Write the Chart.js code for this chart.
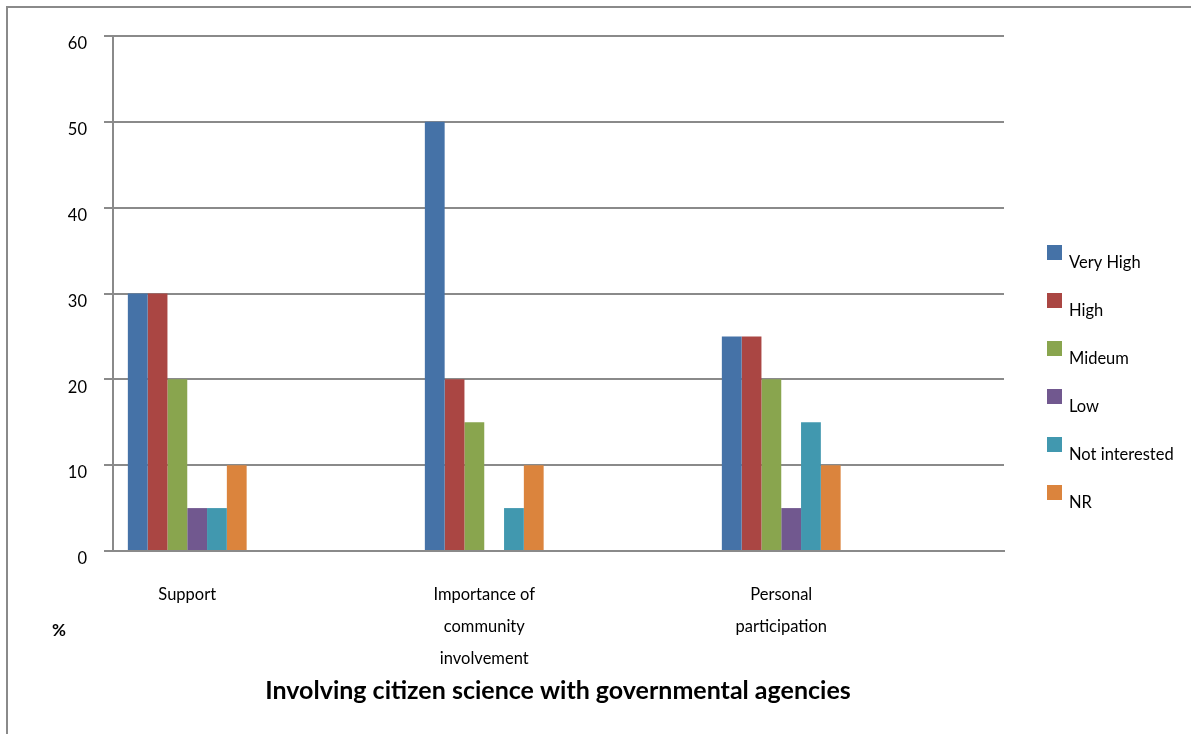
<!DOCTYPE html>
<html>
<head>
<meta charset="utf-8">
<script src="https://cdn.jsdelivr.net/npm/chart.js@4"></script>
<style>
  body { margin: 0; background: #fff; }
</style>
</head>
<body>
<canvas id="myChart" width="1191" height="734"></canvas>
<script>
// categories (blank slots keep the groups apart like the sheet does)
var categories = ['Support', '', ['Importance of', 'community', 'involvement'], '', ['Personal', 'participation'], ''];
var seriesNames = ['Very High', 'High', 'Mideum', 'Low', 'Not interested', 'NR'];
var veryHigh = [30, null, 50, null, 25, null];
var high = [30, null, 20, null, 25, null];
var mideum = [20, null, 15, null, 20, null];
var low = [5, null, 0, null, 5, null];
var notInterested = [5, null, 5, null, 15, null];
var nr = [10, null, 10, null, 10, null];
var yTicks = [0, 10, 20, 30, 40, 50, 60];

var colors = ['#4572A7', '#AA4643', '#89A54E', '#71588F', '#4198AF', '#DB843D'];
var seriesData = [veryHigh, high, mideum, low, notInterested, nr];
var fontFamily = 'Lato, "Open Sans", sans-serif';
var gridColor = '#8a8a8a';

// frame, legend, title and the % sign
let extras = {
    id: 'extras',
    beforeDraw: function (chart) {
        let c = chart.ctx;
        c.save();
        c.fillStyle = '#fff';
        c.fillRect(0, 0, chart.width, chart.height);
        c.strokeStyle = '#8a8a8a';
        c.lineWidth = 2;
        c.strokeRect(7, 7, chart.width + 20, chart.height + 20);
        c.restore();
    },
    afterDraw: function (chart) {
        let c = chart.ctx;
        c.save();
        c.font = '16.5px ' + fontFamily;
        c.textBaseline = 'middle';
        c.textAlign = 'left';
        chart.data.datasets.forEach(function (ds, i) {
            c.fillStyle = ds.backgroundColor;
            c.fillRect(1047, 245 + 48 * i, 15, 15);
            c.fillStyle = '#000';
            c.fillText(ds.label, 1069, 263 + 48 * i);
        });
        c.font = 'bold 17px ' + fontFamily;
        c.textAlign = 'center';
        c.fillText('%', 59, 631);
        c.font = 'bold 25px ' + fontFamily;
        c.fillText('Involving citizen science with governmental agencies', 558, 691);
        c.restore();
    }
};

let ctx = document.getElementById('myChart').getContext('2d');
let myChart = new Chart(ctx, {
    type: 'bar',
    data: {
        labels: categories,
        datasets: seriesNames.map(function (name, i) {
            return {
                label: name,
                data: seriesData[i],
                backgroundColor: colors[i],
                borderWidth: 0,
                categoryPercentage: 0.8,
                barPercentage: 1.0
            };
        })
    },
    options: {
        responsive: false,
        animation: false,
        layout: { padding: { left: 0, top: 36, right: 187, bottom: 0 } },
        plugins: {
            legend: { display: false },
            tooltip: { enabled: false }
        },
        scales: {
            x: {
                grid: { display: false, drawTicks: false },
                border: { display: true, color: gridColor, width: 2 },
                ticks: {
                    color: '#000',
                    padding: 28,
                    maxRotation: 0,
                    autoSkip: false,
                    font: { family: fontFamily, size: 16.5, lineHeight: 1.94 }
                },
                afterFit: function (scale) { scale.height = 734 - 551; }
            },
            y: {
                min: 0,
                max: 60,
                afterBuildTicks: function (scale) {
                    scale.ticks = yTicks.map(function (v) { return { value: v }; });
                },
                grid: { color: gridColor, lineWidth: 2, tickLength: 9 },
                border: { display: true, color: gridColor, width: 2 },
                ticks: {
                    color: '#000',
                    padding: 17,
                    labelOffset: 8,
                    font: { family: fontFamily, size: 16.5 }
                },
                afterFit: function (scale) { scale.width = 113; }
            }
        }
    },
    plugins: [extras]
});
</script>
</body>
</html>
